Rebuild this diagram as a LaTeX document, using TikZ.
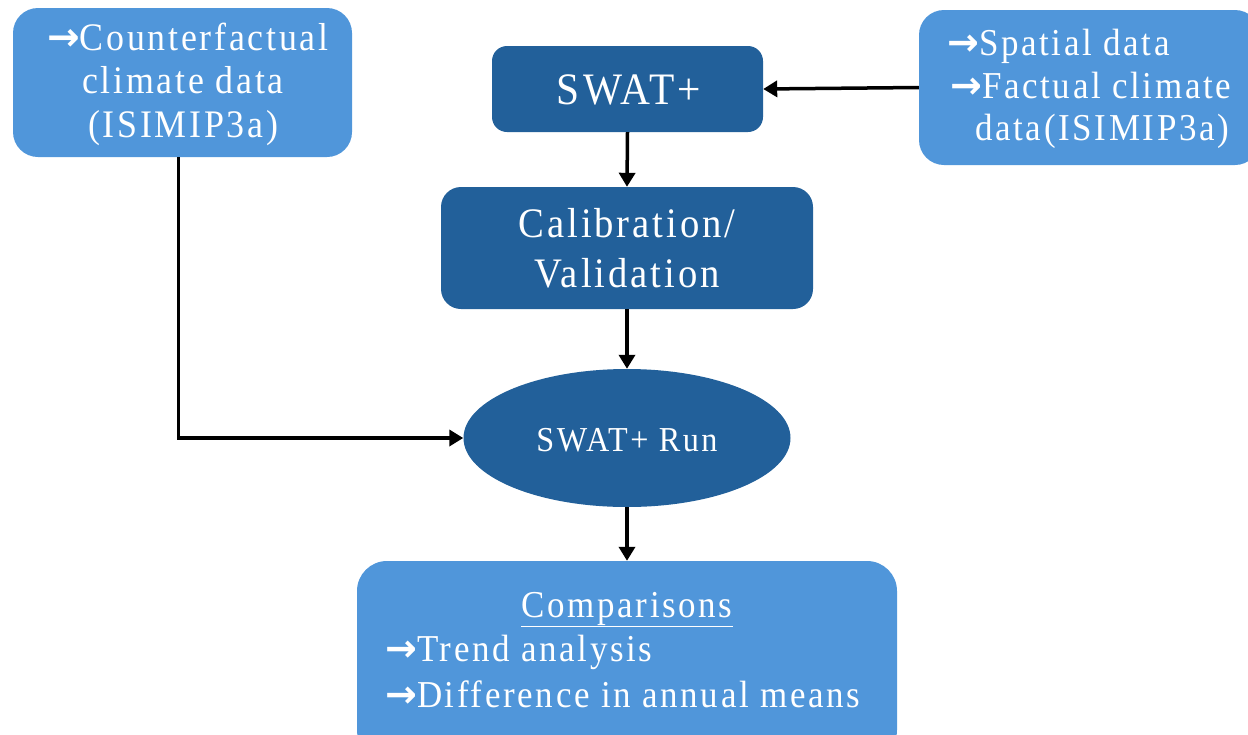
\documentclass[tikz,border=0pt]{standalone}
\usepackage{fontspec}
\setmainfont{Liberation Serif}
\newfontfamily\pptfont[FakeStretch=0.92,LetterSpace=7]{Liberation Serif}
\newfontfamily\arrfont{DejaVu Sans}
\newcommand\myarr{{\arrfont\bfseries →}}
\usetikzlibrary{arrows.meta,shapes.geometric}
\definecolor{lightbl}{RGB}{80,150,218}
\definecolor{darkbl}{RGB}{34,96,154}
\tikzset{
  lbox/.style={rectangle, fill=lightbl, draw=none, rounded corners=25pt, inner sep=0pt},
  dbox/.style={rectangle, fill=darkbl, draw=none, rounded corners=18pt, inner sep=0pt},
  txt/.style={text=white, inner sep=0pt, anchor=base},
  conn/.style={line width=3.5pt, -{Triangle[length=14pt,width=16pt]}}
}
\begin{document}
\begin{tikzpicture}[x=1pt,y=-1pt]
\useasboundingbox (0,0) rectangle (1248,734);
% boxes
\node[lbox, minimum width=339pt, minimum height=149pt] (lb) at (182.5,82.5) {};
\node[lbox, minimum width=341pt, minimum height=155pt] (rb) at (1089.5,87.5) {};
\node[dbox, rounded corners=15pt, minimum width=271pt, minimum height=86pt] (swat) at (627.5,89) {};
\node[dbox, rounded corners=20pt, minimum width=372pt, minimum height=122pt] (cal) at (627,248) {};
\node[ellipse, fill=darkbl, draw=none, inner sep=0pt, minimum width=327pt, minimum height=138pt] (run) at (627,438) {};
\node[lbox, rounded corners=30pt, minimum width=540pt, minimum height=199pt] (cmp) at (627,660.5) {};
% texts
\begin{scope}[every node/.style={txt}]
\node[anchor=base west, font=\pptfont\fontsize{39}{44}\selectfont] (l1) at (47,50) {\myarr Counterfactual};
\node[font=\pptfont\fontsize{39}{44}\selectfont] (l2) at (183,93) {climate data};
\node[font=\pptfont\fontsize{39}{44}\selectfont] (l3) at (183,137) {(ISIMIP3a)};
\node[anchor=base west, font=\pptfont\fontsize{38}{44}\selectfont] (r1) at (947,55) {\myarr Spatial data};
\node[anchor=base west, font=\pptfont\fontsize{38}{44}\selectfont] (r2) at (950,98) {\myarr Factual climate};
\node[anchor=base west, font=\pptfont\fontsize{38}{44}\selectfont] (r3) at (975,140) {data(ISIMIP3a)};
\node[font=\pptfont\fontsize{45}{50}\selectfont] (s1) at (629,104) {SWAT+};
\node[font=\pptfont\fontsize{42}{48}\selectfont] (c1) at (627,237) {Calibration/};
\node[font=\pptfont\fontsize{42}{48}\selectfont] (c2) at (627,287) {Validation};
\node[font=\pptfont\fontsize{35}{44}\selectfont] (u1) at (627,451) {SWAT+ Run};
\node[font=\pptfont\fontsize{38}{44}\selectfont] (b1) at (627,617) {\underline{Comparisons}};
\node[anchor=base west, font=\pptfont\fontsize{38}{44}\selectfont] (b2) at (385,661) {\myarr Trend analysis};
\node[anchor=base west, font=\pptfont\fontsize{38}{44}\selectfont] (b3) at (385,707) {\myarr Difference in annual means};
\end{scope}
% connectors
\draw[conn] (rb.west) -- (swat.east);
\draw[conn] (swat.south) -- (cal.north);
\draw[conn] (cal.south) -- (run.north);
\draw[conn] (run.south) -- (cmp.north);
\draw[conn] ([xshift=-4pt]lb.south) |- (run.west);
\end{tikzpicture}
\end{document}
